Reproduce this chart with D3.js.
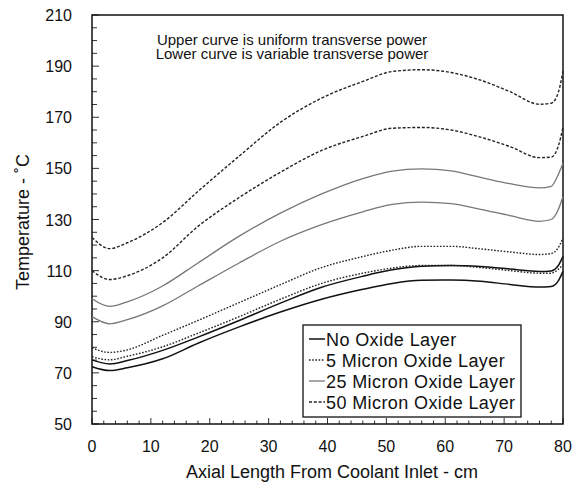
<!DOCTYPE html>
<html>
<head>
<meta charset="utf-8">
<script src="https://cdn.jsdelivr.net/npm/d3@7"></script>
<style>
body { margin: 0; background: #fff; }
text { font-family: "Liberation Sans", Arial, sans-serif; fill: #111; }
</style>
</head>
<body>
<script>
// axial positions (cm) shared by every curve
var axialPos = [0, 3, 6, 12, 18, 25, 32, 39, 46, 51, 56, 61, 66, 71, 76, 78, 79.2, 80];

// upper = uniform transverse power, lower = variable transverse power
var oxide50Upper = [123, 118.6, 120.9, 128.8, 141, 154.8, 168, 177.5, 184, 187.9, 188.6, 187.5, 184.5, 180, 175.1, 175.5, 179.7, 188];
var oxide50Lower = [110, 106.5, 108, 115, 127.3, 138.6, 148.5, 157, 162.5, 165.7, 166, 165, 162.2, 158.5, 154.2, 154.4, 158.7, 166];
var oxide25Upper = [99, 96, 97.8, 104, 113, 123.5, 132.5, 140, 146, 148.9, 149.8, 149, 146.5, 144, 142.4, 143, 147.6, 152];
var oxide25Lower = [92, 89.2, 90.8, 96.2, 104, 113, 121.5, 128, 133, 135.9, 136.8, 136.2, 134, 131.5, 129.3, 130, 133.9, 139];
var oxide5Upper = [79.8, 78, 79, 84.7, 90.5, 97.5, 104.5, 111.2, 115.5, 118, 119.5, 119.5, 118.5, 117.3, 116.3, 116.7, 119, 122.8];
var oxide5Lower = [76.3, 75.1, 76.5, 80.2, 85.5, 92, 98.8, 105, 109, 111, 112, 112, 111.2, 110, 109, 109, 110.5, 112.4];
var noOxideUpper = [75.1, 73.5, 74.8, 78.8, 84, 90.5, 97.3, 103.5, 107.8, 110.3, 111.7, 112, 111.6, 110.6, 109.7, 109.9, 112, 115.6];
var noOxideLower = [72.4, 70.9, 72, 75.5, 81.6, 88, 93.8, 98.8, 102.7, 105, 106.2, 106.3, 105.8, 104.6, 103.6, 103.8, 106, 109.7];

var xTicks = [0, 10, 20, 30, 40, 50, 60, 70, 80];
var yTicks = [50, 70, 90, 110, 130, 150, 170, 190, 210];
var legendNames = ["No Oxide Layer", "5 Micron Oxide Layer", "25 Micron Oxide Layer", "50 Micron Oxide Layer"];

var styles = {
    none: { stroke: "#111", width: 1.5, dash: null },
    m5: { stroke: "#222", width: 1.4, dash: "1.6,1.6" },
    m25: { stroke: "#777", width: 1.3, dash: null },
    m50: { stroke: "#222", width: 1.4, dash: "3,1.8" }
};

var series = [
    { vals: noOxideLower, st: "none" },
    { vals: noOxideUpper, st: "none" },
    { vals: oxide5Lower, st: "m5" },
    { vals: oxide5Upper, st: "m5" },
    { vals: oxide25Lower, st: "m25" },
    { vals: oxide25Upper, st: "m25" },
    { vals: oxide50Lower, st: "m50" },
    { vals: oxide50Upper, st: "m50" }
];

var W = 587, H = 489;
var pLeft = 92, pRight = 563, pTop = 15, pBottom = 424;

var svg = d3.select("body").append("svg")
        .attr("width", W)
        .attr("height", H);

var x = d3.scaleLinear().domain([0, 80]).range([pLeft, pRight]);
var y = d3.scaleLinear().domain([50, 210]).range([pBottom, pTop]);

// minor ticks (inward)
var g = svg.append("g");
d3.range(0, 81, 2).forEach(function(v) {
    var len = (v % 10 === 0) ? 6 : 3.5;
    g.append("line").attr("x1", x(v)).attr("x2", x(v))
        .attr("y1", pBottom).attr("y2", pBottom - len)
        .attr("stroke", "#333").attr("stroke-width", 1);
});
d3.range(50, 211, 5).forEach(function(v) {
    var len = (v % 20 === 10) ? 7 : 5;
    g.append("line").attr("x1", pLeft).attr("x2", pLeft + len)
        .attr("y1", y(v)).attr("y2", y(v))
        .attr("stroke", "#333").attr("stroke-width", 1);
});

// frame
svg.append("rect")
    .attr("x", pLeft).attr("y", pTop)
    .attr("width", pRight - pLeft).attr("height", pBottom - pTop)
    .attr("fill", "none").attr("stroke", "#111").attr("stroke-width", 1.5);

// tick labels
svg.selectAll(".xl").data(xTicks).enter().append("text")
    .attr("x", function(d) { return x(d); })
    .attr("y", 452)
    .attr("text-anchor", "middle")
    .style("font-size", "16px")
    .text(function(d) { return d; });

svg.selectAll(".yl").data(yTicks).enter().append("text")
    .attr("x", 72)
    .attr("y", function(d) { return y(d) + 6; })
    .attr("text-anchor", "end")
    .style("font-size", "16px")
    .text(function(d) { return d; });

// axis titles
svg.append("text")
    .attr("x", 332).attr("y", 478)
    .attr("text-anchor", "middle")
    .style("font-size", "18px")
    .text("Axial Length From Coolant Inlet - cm");

svg.append("text")
    .attr("transform", "translate(29,222) rotate(-90)")
    .attr("text-anchor", "middle")
    .style("font-size", "18px")
    .text("Temperature - \u02DAC");

// note
svg.append("text").attr("x", 292).attr("y", 45)
    .attr("text-anchor", "middle").style("font-size", "15px")
    .text("Upper curve is uniform transverse power");
svg.append("text").attr("x", 292).attr("y", 59)
    .attr("text-anchor", "middle").style("font-size", "15px")
    .text("Lower curve is variable transverse power");

// curves
var line = d3.line()
        .x(function(d) { return x(d[0]); })
        .y(function(d) { return y(d[1]); })
        .curve(d3.curveMonotoneX);

series.forEach(function(s) {
    var st = styles[s.st];
    var pts = axialPos.map(function(a, i) { return [a, s.vals[i]]; });
    svg.append("path")
        .attr("d", line(pts))
        .attr("fill", "none")
        .attr("stroke", st.stroke)
        .attr("stroke-width", st.width)
        .attr("stroke-dasharray", st.dash);
});

// legend
var lg = svg.append("g");
lg.append("rect")
    .attr("x", 303).attr("y", 325)
    .attr("width", 218).attr("height", 92)
    .attr("fill", "#fff").attr("stroke", "#111").attr("stroke-width", 1.3);
var legKeys = ["none", "m5", "m25", "m50"];
legendNames.forEach(function(name, i) {
    var cy = 339 + i * 21;
    var st = styles[legKeys[i]];
    lg.append("line")
        .attr("x1", 309).attr("x2", 325)
        .attr("y1", cy).attr("y2", cy)
        .attr("stroke", st.stroke).attr("stroke-width", st.width)
        .attr("stroke-dasharray", st.dash);
    lg.append("text")
        .attr("x", 326).attr("y", cy + 6.5)
        .style("font-size", "18px")
        .style("letter-spacing", "0.4px")
        .text(name);
});
</script>
</body>
</html>
